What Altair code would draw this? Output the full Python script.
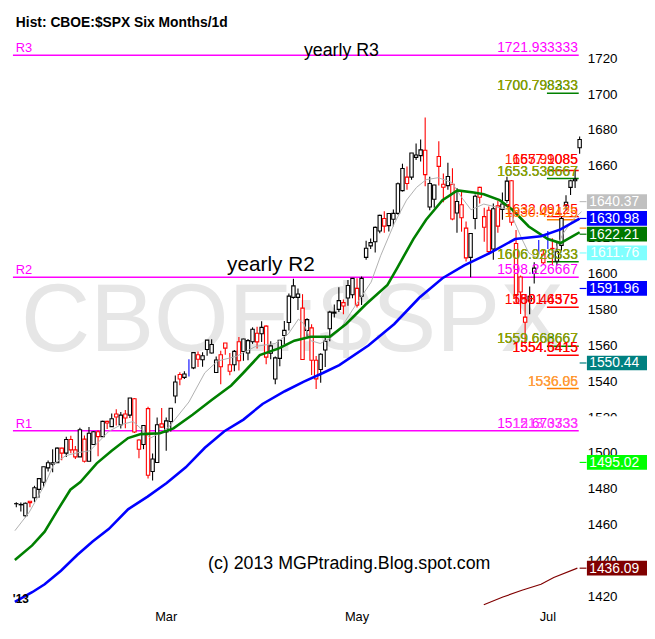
import altair as alt
import pandas as pd

# ---------------- data ----------------
# daily bars, Jan 11 2013 .. Jul 11 2013 (bar index 0..124)
opens = [1472.0, 1471.4, 1465.3, 1473.4, 1475.3, 1480.0, 1484.0, 1492.0, 1494.0, 1494.8,
         1503.0, 1500.2, 1507.8, 1502.0, 1498.1, 1508.0, 1495.7, 1505.0, 1512.1, 1509.4,
         1517.9, 1515.0, 1522.0, 1516.0, 1522.0, 1521.4, 1530.5, 1507.5, 1505.0, 1525.0,
         1490.0, 1495.0, 1516.5, 1512.0, 1517.8, 1532.0, 1544.0, 1542.4, 1547.7, 1547.7,
         1555.0, 1552.2, 1558.0, 1556.0, 1545.1, 1555.0, 1561.6, 1549.5, 1549.5, 1562.3,
         1556.8, 1556.0, 1562.3, 1567.0, 1566.7, 1571.0, 1555.9, 1541.5, 1553.0, 1565.8,
         1573.0, 1587.0, 1587.0, 1581.0, 1568.5, 1570.0, 1552.0, 1546.8, 1557.7, 1569.5,
         1578.2, 1580.3, 1584.1, 1586.7, 1588.5, 1592.0, 1587.6, 1609.3, 1615.7, 1618.0,
         1624.0, 1631.0, 1627.0, 1630.5, 1633.8, 1646.5, 1654.0, 1654.0, 1665.0, 1666.0,
         1669.0, 1637.4, 1641.7, 1665.5, 1650.0, 1649.3, 1650.0, 1634.0, 1638.6, 1625.6,
         1609.3, 1631.0, 1648.3, 1632.0, 1635.6, 1614.0, 1638.0, 1636.0, 1641.0, 1652.0,
         1617.0, 1598.4, 1576.0, 1585.0, 1600.3, 1615.0, 1611.0, 1619.0, 1614.3, 1607.1,
         1616.0, 1638.3, 1648.3, 1652.0, 1670.4]
highs = [1472.8, 1472.7, 1472.7, 1473.4, 1482.0, 1486.0, 1492.6, 1496.1, 1502.3, 1503.3,
         1503.2, 1509.4, 1509.9, 1504.2, 1514.4, 1510.0, 1514.8, 1512.5, 1512.9, 1518.3,
         1518.3, 1522.3, 1524.7, 1523.1, 1524.2, 1530.9, 1530.9, 1508.0, 1515.6, 1526.0,
         1500.0, 1520.1, 1525.3, 1520.0, 1525.3, 1543.5, 1545.3, 1545.8, 1552.5, 1556.3,
         1556.8, 1556.4, 1563.3, 1563.6, 1554.0, 1557.3, 1561.6, 1556.0, 1557.7, 1564.9,
         1563.9, 1563.8, 1570.3, 1570.6, 1573.7, 1571.5, 1562.6, 1554.0, 1563.1, 1573.9,
         1589.1, 1597.4, 1592.0, 1588.8, 1575.4, 1572.0, 1554.4, 1555.9, 1565.6, 1579.6,
         1583.0, 1592.6, 1585.8, 1596.7, 1597.6, 1597.6, 1598.6, 1618.5, 1619.8, 1626.5,
         1633.0, 1635.0, 1633.7, 1636.0, 1651.0, 1661.5, 1660.0, 1667.5, 1672.8, 1675.0,
         1687.2, 1654.2, 1649.8, 1674.0, 1656.0, 1662.0, 1659.0, 1648.0, 1646.5, 1629.3,
         1622.6, 1644.4, 1648.7, 1637.0, 1637.7, 1639.3, 1640.8, 1645.5, 1654.2, 1652.4,
         1624.6, 1599.2, 1588.5, 1593.0, 1606.6, 1619.0, 1614.0, 1624.0, 1620.0, 1617.4,
         1632.0, 1643.9, 1652.5, 1658.0, 1676.7]
lows = [1470.0, 1467.7, 1464.5, 1470.0, 1473.0, 1475.4, 1481.2, 1489.9, 1489.5, 1494.8,
        1496.3, 1498.0, 1500.1, 1497.0, 1498.1, 1495.0, 1495.7, 1504.7, 1498.5, 1509.4,
        1513.6, 1515.0, 1515.6, 1514.0, 1514.1, 1519.8, 1511.4, 1497.3, 1502.4, 1486.0,
        1485.0, 1494.9, 1514.5, 1501.5, 1512.3, 1528.0, 1538.1, 1541.5, 1542.9, 1547.0,
        1548.2, 1548.3, 1554.5, 1555.7, 1545.1, 1538.6, 1555.0, 1543.6, 1545.9, 1546.2,
        1551.7, 1551.9, 1561.1, 1558.5, 1562.2, 1549.8, 1552.5, 1538.6, 1548.6, 1560.9,
        1568.6, 1586.2, 1580.0, 1552.3, 1565.0, 1543.7, 1536.0, 1539.4, 1548.2, 1562.5,
        1575.8, 1578.9, 1577.6, 1582.3, 1586.5, 1581.3, 1582.8, 1608.0, 1614.0, 1612.0,
        1622.7, 1623.0, 1623.7, 1626.7, 1633.0, 1646.0, 1647.0, 1652.5, 1663.5, 1662.7,
        1649.0, 1635.5, 1636.9, 1649.3, 1640.0, 1647.0, 1630.0, 1623.0, 1623.6, 1607.0,
        1598.2, 1625.0, 1639.3, 1618.0, 1610.9, 1608.0, 1623.0, 1630.3, 1639.8, 1627.0,
        1584.3, 1577.7, 1561.0, 1577.6, 1594.8, 1611.0, 1605.0, 1614.0, 1605.0, 1604.8,
        1613.0, 1635.8, 1644.0, 1648.0, 1667.0]
closes = [1472.05, 1471.6, 1472.3, 1472.6, 1480.9, 1486.0, 1492.6, 1494.8, 1494.8, 1503.0,
          1500.2, 1507.8, 1502.0, 1498.1, 1513.2, 1495.7, 1511.3, 1512.1, 1509.4, 1517.9,
          1517.0, 1519.4, 1520.3, 1521.4, 1519.8, 1530.9, 1512.0, 1502.4, 1515.6, 1487.9,
          1496.9, 1516.0, 1514.7, 1518.2, 1525.2, 1539.8, 1541.5, 1544.3, 1551.2, 1556.2,
          1552.5, 1554.5, 1563.2, 1560.7, 1552.1, 1548.3, 1558.7, 1545.8, 1556.9, 1551.7,
          1563.8, 1562.9, 1569.2, 1562.2, 1570.3, 1553.7, 1560.0, 1553.3, 1563.1, 1568.6,
          1587.7, 1593.4, 1588.9, 1552.4, 1574.6, 1552.0, 1541.6, 1555.3, 1562.5, 1578.8,
          1578.8, 1585.2, 1582.2, 1593.6, 1597.6, 1582.7, 1597.6, 1614.4, 1617.5, 1626.0,
          1632.7, 1626.7, 1633.7, 1633.8, 1650.3, 1658.8, 1650.5, 1667.5, 1666.3, 1669.2,
          1655.4, 1650.5, 1649.6, 1660.0, 1648.4, 1654.4, 1630.7, 1640.4, 1631.4, 1609.0,
          1622.6, 1643.4, 1642.8, 1626.1, 1612.5, 1636.4, 1626.7, 1639.0, 1651.8, 1628.9,
          1588.2, 1590.0, 1573.1, 1587.6, 1603.3, 1615.0, 1606.3, 1619.0, 1614.1, 1612.4,
          1631.0, 1640.0, 1652.0, 1652.8, 1675.0]
blue_bars = [38, 115, 117]   # bars drawn as plain blue ranges

# moving-average lines (bar position, value)
gray_i = [-0.3, 2.85, 6.24, 8.35, 10.9, 13.4, 16.2, 20.4, 23.2, 25.7, 27.4, 29.5, 31.6, 33.7,
          38.0, 41.5, 44.3, 48.5, 52.7, 57.0, 59.9, 62.1, 63.3, 64.8, 66.9, 69.0, 71.1, 74.0,
          78.1, 80.2, 83.2, 85.9, 88.1, 90.2, 92.9, 95.9, 98.0, 100.1, 102.9, 105.6, 108.6,
          109.8, 111.3, 112.8, 114.9, 116.2, 118.3, 120.4, 122.5, 124.4]
gray_v = [1457.0, 1467.3, 1482.5, 1494.5, 1498.8, 1500.4, 1501.5, 1512.4, 1516.2, 1517.8,
          1514.0, 1508.6, 1511.3, 1515.1, 1528.7, 1545.0, 1551.5, 1554.2, 1559.7, 1561.3,
          1566.7, 1574.9, 1572.2, 1562.9, 1561.3, 1564.0, 1568.4, 1580.0, 1595.5, 1610.2,
          1628.2, 1641.2, 1648.3, 1652.6, 1653.7, 1651.0, 1642.8, 1635.8, 1639.0, 1637.4,
          1635.8, 1628.2, 1619.5, 1611.8, 1608.6, 1608.6, 1611.8, 1622.7, 1630.3, 1634.7]
green_i = [-0.32, 3.49, 6.24, 9.2, 11.9, 14.1, 17.7, 21.0, 24.6, 27.4, 31.6, 34.6, 38.8, 43.0,
           47.3, 50.0, 53.6, 57.8, 61.2, 64.8, 69.0, 72.6, 76.9, 81.7, 83.8, 87.4, 90.2, 93.8,
           97.1, 100.7, 102.9, 106.4, 109.2, 112.8, 117.0, 119.8, 122.5, 124.0]
green_v = [1440.7, 1448.8, 1456.4, 1468.9, 1479.8, 1484.1, 1494.5, 1501.5, 1508.6, 1510.8,
           1511.3, 1514.0, 1521.6, 1529.8, 1537.9, 1545.0, 1554.8, 1558.6, 1562.9, 1565.1,
           1565.1, 1572.2, 1583.0, 1593.9, 1603.2, 1619.5, 1630.3, 1641.2, 1646.6, 1645.5,
           1644.5, 1641.2, 1635.8, 1626.5, 1619.5, 1617.3, 1621.1, 1623.3]
blue_i = [-0.32, 3.49, 6.24, 9.83, 13.4, 16.8, 20.4, 24.6, 28.9, 33.1, 37.3, 41.5, 45.8, 50.0,
          54.2, 59.1, 63.3, 67.6, 71.1, 77.5, 83.2, 88.7, 93.8, 98.6, 104.3, 109.8, 115.5,
          119.8, 124.0]
blue_v = [1417.3, 1422.7, 1427.1, 1434.7, 1443.4, 1451.0, 1458.0, 1468.9, 1476.0, 1483.6,
          1492.3, 1503.2, 1512.4, 1518.9, 1527.6, 1534.7, 1540.1, 1545.0, 1549.3, 1560.2,
          1572.2, 1586.8, 1597.7, 1604.8, 1611.8, 1619.5, 1621.1, 1624.9, 1630.9]
maroon_i = [102.9, 107.1, 111.3, 115.5, 118.3, 123.5]
maroon_v = [1415.7, 1420.0, 1423.8, 1427.1, 1430.9, 1436.1]

# yearly pivots (full-width lines)
yearly_names = ["R3", "R2", "R1"]
yearly_values = [1721.933333, 1598.226667, 1512.673333]

# short pivot lines at the right
pivot_values = [1700.79, 1657.7, 1653.2, 1632.0, 1630.3, 1606.92, 1581.5, 1559.8, 1554.8, 1536.2]
pivot_colors = ["#008000", "#ff0000", "#008000", "#ff0000", "#ff8000", "#008000",
                "#ff0000", "#008000", "#ff0000", "#ff8000"]

# pivot value labels (several printed on top of each other)
label_texts = ["1721.933333", "1700.798333", "1700.793233", "1657.91085", "1657.9085",
               "1653.538667", "1653.536667", "1632.09125", "1630.49425", "1606.928333",
               "1606.923333", "1598.226667", "1580.46375", "1581.4575", "1559.668667",
               "1559.666667", "1554.6415", "1554.5415", "1536.05", "1536.96",
               "1512.673333", "1513.0733"]
label_values = [1721.93, 1700.79, 1700.79, 1659.5, 1659.5, 1653.2, 1653.2, 1632.0, 1630.3,
                1606.92, 1606.92, 1598.23, 1581.5, 1581.5, 1559.8, 1559.8, 1554.8, 1554.8,
                1536.2, 1536.2, 1512.67, 1512.67]
label_colors = ["#ff00ff", "#008000", "#99a000", "#ff2000", "#ff0000", "#008000", "#99a000",
                "#ff0000", "#ff8000", "#008000", "#99a000", "#ff00ff", "#ff0000", "#ff0000",
                "#008000", "#99a000", "#ff0000", "#ff0000", "#ff8000", "#ffa040",
                "#ff00ff", "#ff40ff"]

# current-value boxes on the price scale
box_values = [1640.37, 1630.98, 1622.21, 1611.76, 1591.96, 1550.44, 1495.02, 1436.09]
box_colors = ["#c0c0c0", "#0000ff", "#007800", "#80ffff", "#0000ff", "#008080",
              "#00ff00", "#800000"]
hidden_box_value = 1516.7
extra_tick_values = [1625.6]
extra_tick_colors = ["#ff8000"]

axis_ticks = [1720, 1700, 1680, 1660, 1640, 1620, 1600, 1580, 1560, 1540, 1520, 1500,
              1480, 1460, 1440, 1420]
month_labels = ["Mar", "May", "Jul"]
month_bars = [33, 75, 117]

FONT = "Liberation Sans"
X_DOMAIN = [-0.74, 137.74]
Y_DOMAIN = [1398.8, 1746.09]


def X(field="i"):
    return alt.X(f"{field}:Q", scale=alt.Scale(domain=X_DOMAIN, nice=False, zero=False), axis=None)


def Y(field="v"):
    return alt.Y(f"{field}:Q", scale=alt.Scale(domain=Y_DOMAIN, nice=False, zero=False), axis=None)


# ---------------- tables ----------------
n = len(closes)
bars = pd.DataFrame({"i": list(range(n)), "open": opens, "high": highs, "low": lows, "close": closes})
bars["col"] = ["#0000ff" if k in blue_bars else ("#ff0000" if c < o else "#000000")
               for k, o, c in zip(range(n), opens, closes)]
bodies = bars[~bars["i"].isin(blue_bars)]


def line_df(xs, vs):
    return pd.DataFrame({"i": xs, "v": vs})


layers = []

# watermark
layers.append(alt.Chart(pd.DataFrame({"i": [60.8], "v": [1557.0], "t": ["CBOE:$SPX"]}))
              .mark_text(font=FONT, fontSize=97, color="#e6e6e6", align="center", baseline="alphabetic")
              .encode(x=X(), y=Y(), text="t:N"))

# yearly pivot lines
yl = pd.DataFrame({"i": [-0.74] * 3, "i2": [123.8] * 3, "v": yearly_values})
layers.append(alt.Chart(yl).mark_rule(color="#ff00ff", strokeWidth=1.5)
              .encode(x=X(), x2="i2:Q", y=Y()))

# short pivot lines
pl = pd.DataFrame({"i": [116.8] * len(pivot_values), "i2": [123.8] * len(pivot_values),
                   "v": pivot_values, "col": pivot_colors})
layers.append(alt.Chart(pl).mark_rule(strokeWidth=1.5)
              .encode(x=X(), x2="i2:Q", y=Y(), color=alt.Color("col:N", scale=None)))

# candles
layers.append(alt.Chart(bars).mark_rule(strokeWidth=1.1)
              .encode(x=X(), y=Y("low"), y2="high:Q", color=alt.Color("col:N", scale=None)))
layers.append(alt.Chart(bodies).mark_bar(size=3.4, fill="white", strokeWidth=1.1)
              .encode(x=X(), y=Y("open"), y2="close:Q", stroke=alt.Stroke("col:N", scale=None)))

# moving averages
layers.append(alt.Chart(line_df(maroon_i, maroon_v)).mark_line(color="#800000", strokeWidth=1.2)
              .encode(x=X(), y=Y()))
layers.append(alt.Chart(line_df(gray_i, gray_v)).mark_line(color="#b0b0b0", strokeWidth=1)
              .encode(x=X(), y=Y()))
layers.append(alt.Chart(line_df(green_i, green_v)).mark_line(color="#008000", strokeWidth=2.6)
              .encode(x=X(), y=Y()))
layers.append(alt.Chart(line_df(blue_i, blue_v)).mark_line(color="#0000ff", strokeWidth=2.6)
              .encode(x=X(), y=Y()))

# R1/R2/R3 names
rn = pd.DataFrame({"i": [-0.1] * 3, "v": yearly_values, "t": yearly_names})
layers.append(alt.Chart(rn).mark_text(font=FONT, fontSize=13, color="#ff00ff", align="left",
                                      baseline="alphabetic", dy=-3)
              .encode(x=X(), y=Y(), text="t:N"))

# pivot value labels
lb = pd.DataFrame({"i": [123.6] * len(label_texts), "v": label_values, "t": label_texts,
                   "col": label_colors})
layers.append(alt.Chart(lb).mark_text(font=FONT, fontSize=14, align="right", baseline="alphabetic", dy=-3)
              .encode(x=X(), y=Y(), text="t:N", color=alt.Color("col:N", scale=None)))

# price axis labels
ax = pd.DataFrame({"i": [125.8] * len(axis_ticks), "v": axis_ticks, "t": [str(t) for t in axis_ticks]})
layers.append(alt.Chart(ax).mark_text(font=FONT, fontSize=13.5, color="black", align="left", baseline="middle")
              .encode(x=X(), y=Y(), text="t:N"))

# boxes with current values
half = 4.1
bx = pd.DataFrame({"i": [125.6] * len(box_values), "i2": [140.0] * len(box_values),
                   "i3": [137.1] * len(box_values),
                   "lo": [b - half for b in box_values], "hi": [b + half for b in box_values],
                   "v": box_values, "t": [f"{b:.2f}" for b in box_values], "col": box_colors})
hb = pd.DataFrame({"i": [125.6], "i2": [140.0], "lo": [hidden_box_value - half],
                   "hi": [hidden_box_value + half]})
layers.append(alt.Chart(hb).mark_rect(color="white").encode(x=X(), x2="i2:Q", y=Y("lo"), y2="hi:Q"))
layers.append(alt.Chart(bx).mark_rect().encode(x=X(), x2="i2:Q", y=Y("lo"), y2="hi:Q",
                                               color=alt.Color("col:N", scale=None)))
layers.append(alt.Chart(bx).mark_text(font=FONT, fontSize=14, color="white", align="right",
                                      baseline="middle", dy=0.5)
              .encode(x=X("i3"), y=Y(), text="t:N"))
tk = pd.DataFrame({"i": [124.0] * (len(box_values) + len(extra_tick_values)),
                   "i2": [125.5] * (len(box_values) + len(extra_tick_values)),
                   "v": box_values + extra_tick_values, "col": box_colors + extra_tick_colors})
layers.append(alt.Chart(tk).mark_rule(strokeWidth=1.2)
              .encode(x=X(), x2="i2:Q", y=Y(), color=alt.Color("col:N", scale=None)))

# month labels
ml = pd.DataFrame({"i": month_bars, "v": [1406.4] * 3, "t": month_labels})
layers.append(alt.Chart(ml).mark_text(font=FONT, fontSize=13, color="black", align="center", baseline="alphabetic")
              .encode(x=X(), y=Y(), text="t:N"))
yr = pd.DataFrame({"i": [1.0], "v": [1416.7], "t": ["'13"]})
layers.append(alt.Chart(yr).mark_text(font=FONT, fontSize=12, fontWeight="bold", color="black",
                                      align="center", baseline="alphabetic")
              .encode(x=X(), y=Y(), text="t:N"))

# annotations
r3_ann = pd.DataFrame({"i": [63.3], "v": [1721.6], "t": ["yearly R3"]})
r2_ann = pd.DataFrame({"i": [46.4], "v": [1598.23], "t": ["yearly R2"]})
copy_ann = pd.DataFrame({"i": [42.2], "v": [1435.8], "t": ["(c) 2013 MGPtrading.Blog.spot.com"]})
layers.append(alt.Chart(r3_ann).mark_text(font=FONT, fontSize=18, color="black", align="left", baseline="alphabetic")
              .encode(x=X(), y=Y(), text="t:N"))
layers.append(alt.Chart(r2_ann).mark_text(font=FONT, fontSize=21, color="black", align="left", baseline="alphabetic", dy=-6)
              .encode(x=X(), y=Y(), text="t:N"))
layers.append(alt.Chart(copy_ann).mark_text(font=FONT, fontSize=18, color="black", align="left", baseline="alphabetic")
              .encode(x=X(), y=Y(), text="t:N"))

# title
tt = pd.DataFrame({"i": [-0.1], "v": [1737.9], "t": ["Hist: CBOE:$SPX Six Months/1d"]})
layers.append(alt.Chart(tt).mark_text(font=FONT, fontSize=14, fontWeight="bold", color="black",
                                      align="left", baseline="alphabetic")
              .encode(x=X(), y=Y(), text="t:N"))

chart = alt.layer(*layers).properties(
    width=647, height=631,
    autosize=alt.AutoSizeParams(type="none"),
    padding=0,
    background="white",
).configure_view(strokeWidth=0)

chart.save("out.html", embed_options={"renderer": "svg", "actions": False})
